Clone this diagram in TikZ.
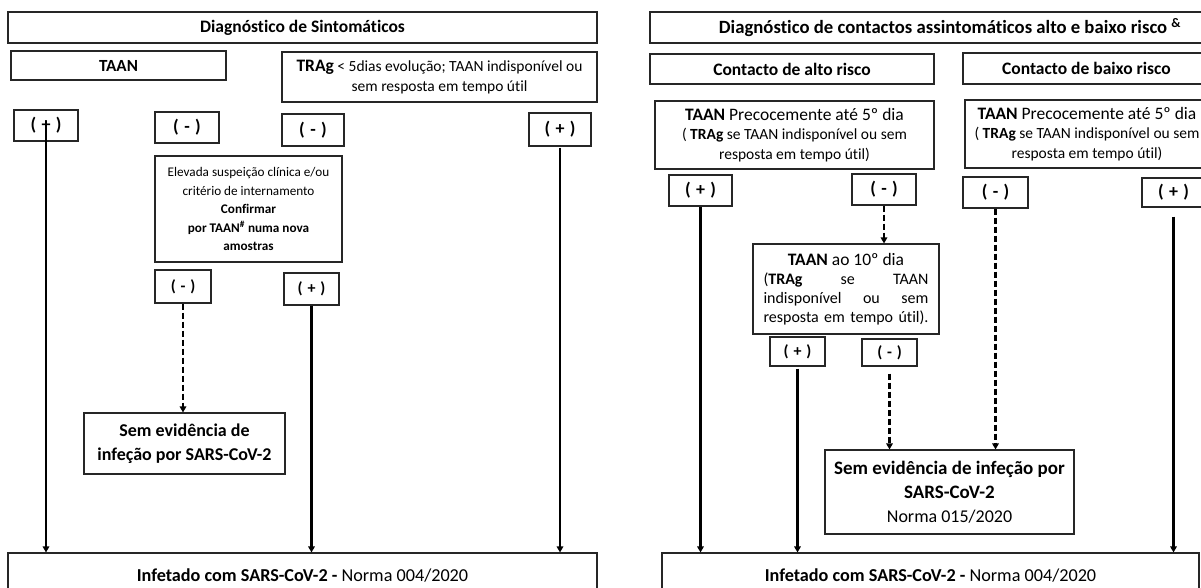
\documentclass[tikz,border=0pt]{standalone}
\usepackage{fontspec}
\setmainfont{Carlito}[Ligatures={NoCommon}]
\usetikzlibrary{arrows.meta}
\newcommand{\fs}[2]{\fontsize{#1}{#2}\selectfont}
\newcommand{\sgn}[1]{(\hspace{0.3em}#1\hspace{0.3em})}
\begin{document}
\begin{tikzpicture}[x=1pt,y=-1pt,
  box/.style={draw=black!85,line width=1.1pt,inner sep=0pt,align=center},
  sign/.style={box,font=\fs{18}{20}\bfseries},
  ssign/.style={box,font=\fs{16}{19}\bfseries},
  ttl/.style={box,font=\fs{17.5}{20}\bfseries},
  arr/.style={line width=2.4pt,-{Triangle[length=6pt,width=6.5pt]}},
  darr/.style={arr,dash pattern=on 6pt off 3pt}]
\useasboundingbox (0,0) rectangle (1201,588);
\clip (0,0) rectangle (1201,588);
% ---------- left panel ----------
\node[ttl,minimum width=589pt,minimum height=31pt] (tL) at (302.5,27.5) {Diagnóstico de Sintomáticos};
\node[box,font=\fs{17}{20}\bfseries,minimum width=215pt,minimum height=29pt] (taan) at (118.5,65.5) {TAAN};
\node[box,font=\fs{15.5}{20},minimum width=315pt,minimum height=50pt] (trag) at (439.5,77) {{\fs{17.5}{20}\bfseries TRAg} < 5dias evolução; TAAN indisponível ou\\ sem resposta em tempo útil};
\node[sign,minimum width=64pt,minimum height=31pt] (p1) at (46,125.5) {\sgn{+}};
\node[sign,minimum width=64pt,minimum height=31pt] (m1) at (187,127.5) {\sgn{-}};
\node[sign,minimum width=62pt,minimum height=32pt] (m2) at (313,130) {\sgn{-}};
\node[sign,minimum width=62pt,minimum height=33pt] (p2) at (560,129.5) {\sgn{+}};
\node[box,font=\fs{13.2}{18.5},minimum width=187pt,minimum height=106pt] (elev) at (248.5,209) {Elevada suspeição clínica e/ou\\ critério de internamento\\ \textbf{Confirmar}\\ \textbf{por TAAN\textsuperscript{\#} numa nova}\\ \textbf{amostras}};
\node[ssign,minimum width=56pt,minimum height=33pt] (m3) at (183,286.5) {\sgn{-}};
\node[ssign,minimum width=55pt,minimum height=32pt] (p3) at (311.5,289) {\sgn{+}};
\node[box,font=\fs{18}{24.5}\bfseries,minimum width=201pt,minimum height=61pt] (semL) at (184.5,443.5) {Sem evidência de\\ infeção por SARS-CoV-2};
\node[box,font=\fs{18.2}{20},minimum width=589pt,minimum height=44pt] (infL) at (302.5,575) {\textbf{Infetado com SARS-CoV-2 -} Norma 004/2020};
\draw[arr] ([yshift=4pt]p1.center) -- (p1 |- infL.north);
\draw[darr] (m3.south) -- (m3.south |- semL.north);
\draw[arr] (p3.south) -- (p3.south |- infL.north);
\draw[arr] ([yshift=-1pt]p2.south) -- (p2.south |- infL.north);
% ---------- right panel ----------
\node[box,font=\fs{18.7}{20}\bfseries,minimum width=600pt,minimum height=31pt] (tR) at (950,27.5) {Diagnóstico de contactos assintomáticos alto e baixo risco \textsuperscript{\&}};
\node[ttl,minimum width=284pt,minimum height=30pt] (cA) at (792,69) {Contacto de alto risco};
\node[ttl,minimum width=247pt,minimum height=31pt] (cB) at (1086.5,68.5) {Contacto de baixo risco};
\node[box,font=\fs{15.5}{19.5},minimum width=279pt,minimum height=68pt] (tA) at (794.5,135) {{\fs{17.5}{21}\textbf{TAAN} Precocemente até 5º dia}\\ ( \textbf{TRAg} se TAAN indisponível ou sem\\ resposta em tempo útil)};
\node[box,font=\fs{15.5}{19.5},minimum width=244pt,minimum height=68pt] (tB) at (1087,134) {{\fs{17.5}{21}\textbf{TAAN} Precocemente até 5º dia}\\ ( \textbf{TRAg} se TAAN indisponível ou sem\\ resposta em tempo útil)};
\node[sign,minimum width=63pt,minimum height=31pt] (pa) at (700.5,190.5) {\sgn{+}};
\node[sign,minimum width=64pt,minimum height=31pt] (ma) at (884,189.5) {\sgn{-}};
\node[sign,minimum width=65pt,minimum height=31pt] (mb) at (995.5,192.5) {\sgn{-}};
\node[sign,minimum width=63pt,minimum height=29pt] (pb) at (1173.5,192.5) {\sgn{+}};
\node[box,font=\fs{16}{19},minimum width=186pt,minimum height=90pt] (t10) at (846,289) {{\fs{17.5}{24}\textbf{TAAN} ao 10º dia}\\ \makebox[165pt][s]{(\textbf{TRAg} se TAAN}\\ \makebox[165pt][s]{indisponível ou sem}\\ \makebox[165pt][s]{resposta em tempo útil).}};
\node[ssign,minimum width=55pt,minimum height=29pt] (pc) at (797.5,351.5) {\sgn{+}};
\node[ssign,minimum width=55pt,minimum height=27pt] (mc) at (889.5,352.5) {\sgn{-}};
\node[box,font=\fs{18}{24},minimum width=249pt,minimum height=84pt] (semR) at (949.5,492) {{\fs{19}{24}\bfseries Sem evidência de infeção por}\\ {\fs{19}{24}\bfseries SARS-CoV-2}\\ Norma 015/2020};
\node[box,font=\fs{18.2}{20},minimum width=537pt,minimum height=44pt] (infR) at (930.5,575) {\textbf{Infetado com SARS-CoV-2 -} Norma 004/2020};
\draw[arr] (pa.south) -- (pa.south |- infR.north);
\draw[darr] (ma.south) -- (ma.south |- t10.north);
\draw[darr] (mb.south) -- (mb.south |- semR.north);
\draw[arr] ([yshift=-9pt]pb.south) -- (pb.south |- infR.north);
\draw[arr] ([yshift=-2pt]pc.south) -- (pc.south |- infR.north);
\draw[darr] ([yshift=-7pt]mc.south) -- (mc.south |- semR.north);
\end{tikzpicture}
\end{document}
